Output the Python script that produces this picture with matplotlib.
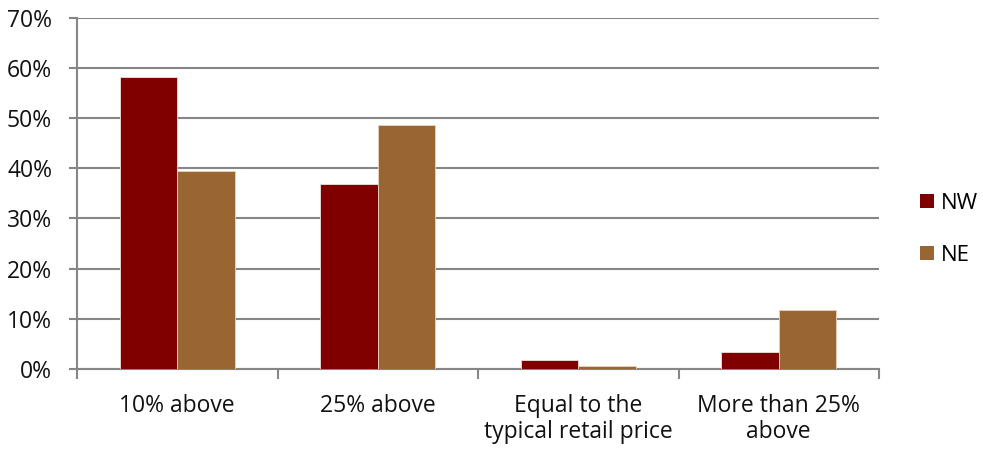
import matplotlib
matplotlib.use("Agg")
import matplotlib.pyplot as plt
from matplotlib.patches import Patch
import numpy as np

categories = ["10% above", "25% above", "Equal to the\ntypical retail price", "More than 25%\nabove"]
nw_values = [58.2, 36.9, 1.7, 3.3]
ne_values = [39.5, 48.6, 0.5, 11.7]
series_names = ["NW", "NE"]
y_ticks = [0, 10, 20, 30, 40, 50, 60, 70]

nw_color = "#800000"
ne_color = "#996633"
grid_color = "#868686"
text_color = "#111111"
font_size = 16.5

plt.rcParams["font.family"] = ["Open Sans", "DejaVu Sans"]

fig = plt.figure(figsize=(9.83, 4.49), dpi=100)
ax = fig.add_axes([77 / 983, 1 - 368.5 / 449, (879 - 77) / 983, (368.5 - 18.5) / 449])

x = np.arange(len(categories))
width = 1 / 3.5
ax.bar(x - width / 2, nw_values, width, color=nw_color, edgecolor="#f2e0e0", linewidth=0.6, zorder=3)
ax.bar(x + width / 2, ne_values, width, color=ne_color, edgecolor="#e8d5c0", linewidth=0.6, zorder=3)

ax.set_xlim(-0.5, len(categories) - 0.5)
ax.set_ylim(0, 70)
ax.set_yticks(y_ticks)
ax.set_yticklabels([f"{v}%" for v in y_ticks], fontsize=font_size, color=text_color)
ax.yaxis.grid(True, color=grid_color, linewidth=1.5, zorder=0)

ax.set_xticks(x)
ax.set_xticklabels(categories, fontsize=font_size, color=text_color, linespacing=1.15)
ax.tick_params(axis="x", which="major", length=0, pad=18)
ax.set_xticks(np.arange(len(categories) + 1) - 0.5, minor=True)
ax.tick_params(axis="x", which="minor", length=7, width=1.5, color=grid_color, direction="out")
ax.tick_params(axis="y", length=6, width=1.5, color=grid_color, direction="out", pad=12)

for side in ["top", "right"]:
    ax.spines[side].set_visible(False)
for side in ["left", "bottom"]:
    ax.spines[side].set_color(grid_color)
    ax.spines[side].set_linewidth(1.5)

handles = [Patch(facecolor=nw_color), Patch(facecolor=ne_color)]
fig.legend(handles, series_names, loc="center left", bbox_to_anchor=(920 / 983, 1 - 229.5 / 449),
           frameon=False, fontsize=16, handlelength=0.62, handleheight=0.62,
           handletextpad=0.3, labelspacing=1.4, borderpad=0.0, borderaxespad=0.0)

fig.savefig("out.png", dpi=100)
